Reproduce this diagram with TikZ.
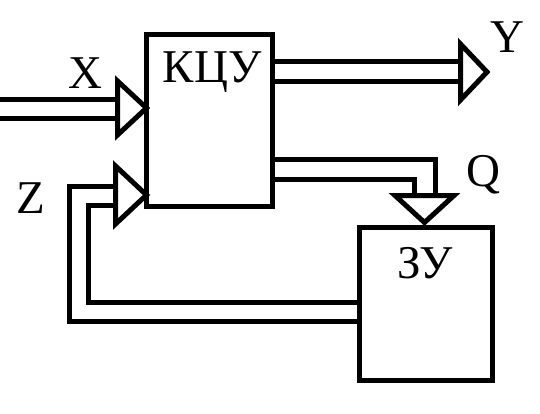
\documentclass[tikz,border=0pt]{standalone}
\usepackage{fontspec}
\setmainfont{Liberation Serif}
\begin{document}
\begin{tikzpicture}[x=1pt,y=-1pt,line width=5pt,line join=miter,miter limit=10,
  blk/.style={draw,line width=5pt,inner sep=0pt,outer sep=0pt,fill=white},
  lbl/.style={inner sep=0pt,anchor=base,font=\fontsize{47}{50}\selectfont},
  tri/.style={draw,line width=5pt,fill=white}]
\useasboundingbox (0,0) rectangle (540,414);
% blocks
\node[blk,minimum width=126pt,minimum height=172pt] (kcu) at (209.5,120.5) {};
\node[blk,minimum width=133pt,minimum height=153pt] (zu) at (426,304) {};
% labels
\node[lbl] (tkcu) at (212,83) {КЦУ};
\node[lbl] (tzu) at (425,278) {ЗУ};
\node[lbl] (tx) at (85,89) {X};
\node[lbl] (tz) at (31,213) {Z};
\node[lbl] (ty) at (507.5,53) {Y};
\node[lbl] (tq) at (483,186) {Q};
% coordinates
\coordinate (xs1) at (0,99.5);
\coordinate (xs2) at (0,118.5);
\coordinate (xb) at (117.5,108);
\coordinate (zb) at (115.5,195);
\coordinate (yb) at (460.5,72);
\coordinate (qb) at (424.5,195.5);
% X input
\draw (xs1) -- (xs1 -| xb);
\draw (xs2) -- (xs2 -| xb);
\draw[tri] ([yshift=-27pt]xb) -- ([yshift=27pt]xb) -- (kcu.west |- xb) -- cycle;
% Y output
\draw (kcu.east |- 0,62) -- (yb |- 0,62);
\draw (kcu.east |- 0,82) -- (yb |- 0,82);
\draw[tri] ([yshift=-28pt]yb) -- ([yshift=28pt]yb) -- ([xshift=26.5pt]yb) -- cycle;
% Q output
\draw[tri] ([xshift=-29.5pt]qb) -- ([xshift=29.5pt]qb) -- ([yshift=-27pt]qb) -- cycle;
\draw (kcu.east |- 0,160) -- (435,160) -- (435,195.5);
\draw (kcu.east |- 0,179.5) -- (414.5,179.5) -- (414.5,195.5);
% Z feedback
\draw (zu.west |- 0,321.5) -- (69.5,321.5) -- (69.5,186.5) -- (zb |- 0,186.5);
\draw (zu.west |- 0,302) -- (88,302) -- (88,205.5) -- (zb |- 0,205.5);
\draw[tri] ([yshift=-29pt]zb) -- ([yshift=29pt]zb) -- (kcu.west |- zb) -- cycle;
% redraw block borders on top
\node[draw,line width=5pt,inner sep=0pt,minimum width=126pt,minimum height=172pt] at (kcu) {};
\node[draw,line width=5pt,inner sep=0pt,minimum width=133pt,minimum height=153pt] at (zu) {};
\end{tikzpicture}
\end{document}
